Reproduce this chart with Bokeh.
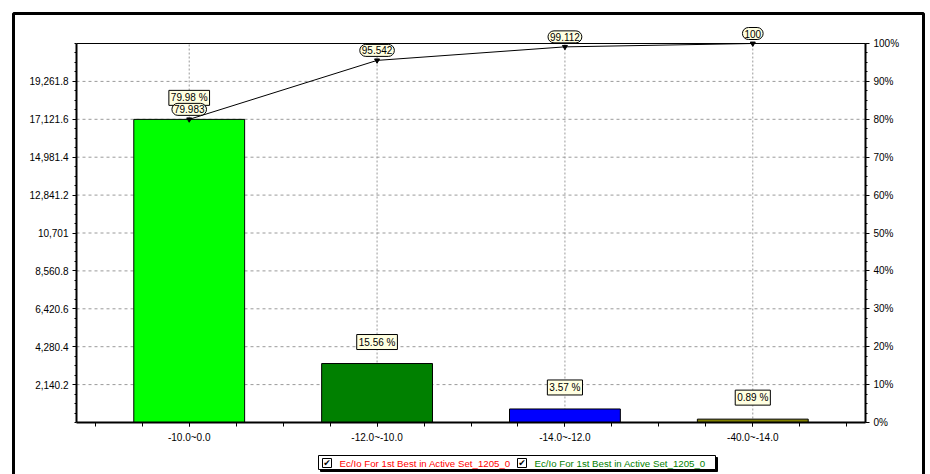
from bokeh.plotting import figure
from bokeh.models import Range1d, LinearAxis, FixedTicker, Label, BoxAnnotation
from bokeh.embed import file_html
from bokeh.resources import INLINE

# ---- data ----
categories = ["-10.0~0.0", "-12.0~-10.0", "-14.0~-12.0", "-40.0~-14.0"]
counts = [17118, 3330, 764, 190]
bar_colors = ["#00FF00", "#008000", "#0000FF", "#808000"]
pct_labels = ["79.98 %", "15.56 %", "3.57 %", "0.89 %"]
cum_pct = [79.983, 95.542, 99.112, 100]
series_names = ["Ec/Io For 1st Best in Active Set_1205_0",
                "Ec/Io For 1st Best in Active Set_1205_0"]
series_colors = ["#FF0000", "#008000"]
right_ticks = [0, 10, 20, 30, 40, 50, 60, 70, 80, 90, 100]

# ---- layout constants (pixels) ----
W, H = 930, 474
PL, PR, PT, PB = 76, 865, 43, 422      # plot-area edges
FONT = "Liberation Sans"
FS = "10px"
LFS = "9.7px"
CREAM = "#FFFFE1"

total = sum(counts)
step = total / 10.0
n = len(categories)
xs = list(range(1, n + 1))
xa0, xa1 = 0.4, n + 0.6

kx = (PR - PL) / (xa1 - xa0)
ky = (PB - PT) / total
x_start, x_end = xa0 - PL / kx, xa1 + (W - PR) / kx
y_start, y_end = -(H - PB) / ky, total + PT / ky

def px_x(px):
    return x_start + px / kx

def px_y(py):
    return y_end - py / ky

p = figure(width=W, height=H, output_backend="svg", toolbar_location=None,
           x_range=Range1d(x_start, x_end), y_range=Range1d(y_start, y_end),
           min_border=0, x_axis_location=None, y_axis_location=None)
p.extra_y_ranges = {"pct": Range1d(y_start / total * 100, y_end / total * 100)}
p.outline_line_color = None
p.background_fill_color = "white"
p.border_fill_color = "white"
p.xgrid.visible = False
p.ygrid.visible = False

# grid lines (inside plot area only)
left_vals = [round(step * i, 1) for i in range(1, 10)]
p.segment(x0=[xa0] * len(left_vals), y0=left_vals, x1=[xa1] * len(left_vals), y1=left_vals,
          line_color="#9A9A9A", line_dash="3 3", line_width=1)
p.segment(x0=xs, y0=[0] * n, x1=xs, y1=[total] * n,
          line_color="#9A9A9A", line_dash="2 2", line_width=1)
# top edge of plot area
p.segment(x0=[xa0], y0=[total], x1=[xa1], y1=[total], line_color="black", line_width=1)

# bars
p.vbar(x=xs, top=counts, width=0.59, fill_color=bar_colors, line_color="black", line_width=1)

# axes
def fmt(v):
    s = f"{v:,.1f}"
    return s[:-2] if s.endswith(".0") else s

left_minor = [round(step * i / 4.0, 3) for i in range(0, 41)]
yl = LinearAxis(ticker=FixedTicker(ticks=left_vals, minor_ticks=left_minor),
                fixed_location=xa0, bounds=(0, total))
yl.major_label_overrides = {v: fmt(v) for v in left_vals}
p.add_layout(yl, "left")

yr = LinearAxis(y_range_name="pct",
                ticker=FixedTicker(ticks=right_ticks, minor_ticks=[i * 2.5 for i in range(41)]),
                fixed_location=xa1, bounds=(0, 100))
yr.major_label_overrides = {v: f"{v}%" for v in right_ticks}
p.add_layout(yr, "right")

xa = LinearAxis(ticker=FixedTicker(ticks=xs, minor_ticks=[0.5 + 0.25 * k for k in range(4 * n + 1)]),
                fixed_location=0, bounds=(xa0, xa1))
xa.major_label_overrides = {x: c for x, c in zip(xs, categories)}
p.add_layout(xa, "below")

for ax in (yl, yr, xa):
    ax.axis_line_color = "black"
    ax.axis_line_width = 2
    ax.major_tick_line_color = "black"
    ax.minor_tick_line_color = "black"
    ax.major_tick_in = 0
    ax.minor_tick_in = 0
    ax.major_tick_out = 4
    ax.minor_tick_out = 2
    ax.major_label_text_font = FONT
    ax.major_label_text_font_size = FS
    ax.major_label_text_color = "black"
    ax.major_label_standoff = 4
xa.minor_tick_out = 4
xa.major_label_standoff = 5

# cumulative line
p.line(xs, cum_pct, y_range_name="pct", line_color="black", line_width=1)
p.scatter(xs, cum_pct, y_range_name="pct", marker="inverted_triangle", size=5,
          fill_color="black", line_color="black")

# percent labels (rectangular)
for x, c, t in zip(xs, counts, pct_labels):
    p.add_layout(Label(x=x, y=c, text=t, text_align="center", text_baseline="bottom",
                       y_offset=14, text_font=FONT, text_font_size=FS, text_color="black",
                       background_fill_color=CREAM, border_line_color="black",
                       border_line_width=1, padding=2))

# cumulative labels (rounded)
for x, c in zip(xs, cum_pct):
    t = f"{c:.3f}".rstrip("0").rstrip(".")
    p.add_layout(Label(x=x, y=c, y_range_name="pct", text=t, text_align="center",
                       text_baseline="bottom", y_offset=4, text_font=FONT, text_font_size=FS,
                       text_color="black", background_fill_color=CREAM,
                       border_line_color="black", border_line_width=1, padding=2,
                       border_radius=6))

# outer frame
p.add_layout(BoxAnnotation(left=px_x(13), right=px_x(923), top=px_y(13), bottom=px_y(490),
                           fill_alpha=0, line_color="black", line_alpha=1, line_width=3))

# legend
p.add_layout(BoxAnnotation(left=px_x(320), right=px_x(717), top=px_y(457), bottom=px_y(471),
                           fill_color="black", fill_alpha=1, line_color="black",
                           line_alpha=1, line_width=1))
p.add_layout(BoxAnnotation(left=px_x(318), right=px_x(715), top=px_y(455), bottom=px_y(469),
                           fill_color="white", fill_alpha=1, line_color="black",
                           line_alpha=1, line_width=1))
for ix, name, col in zip([322, 517], series_names, series_colors):
    p.add_layout(BoxAnnotation(left=px_x(ix), right=px_x(ix + 9), top=px_y(458), bottom=px_y(467),
                               fill_color="white", fill_alpha=1, line_color="black",
                               line_alpha=1, line_width=1))
    p.add_layout(Label(x=px_x(ix + 4.5), y=px_y(462.5), text="\u2714",
                       text_align="center", text_baseline="middle", text_font="DejaVu Sans",
                       text_font_size="9px", text_color="black"))
    p.add_layout(Label(x=px_x(ix + 17), y=px_y(462.5), text=name,
                       text_align="left", text_baseline="middle", text_font=FONT,
                       text_font_size=LFS, text_color=col))

open("out.html", "w").write(file_html(p, INLINE))
